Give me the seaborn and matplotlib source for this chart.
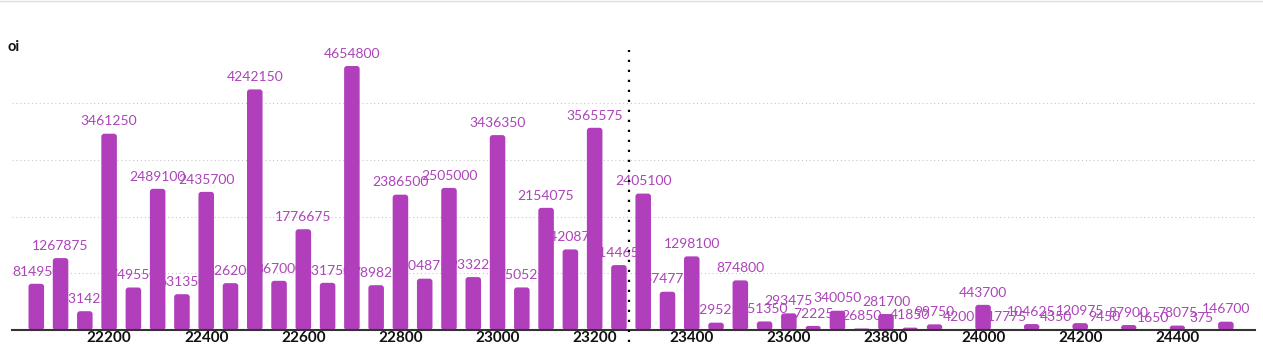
import matplotlib
matplotlib.use("Agg")
import matplotlib.pyplot as plt
import numpy as np
import pandas as pd
import seaborn as sns
from matplotlib.patches import FancyBboxPatch

strikes = list(range(22050, 24550, 50))
oi = [
    814950, 1267875, 331425, 3461250, 749550, 2489100, 631350, 2435700,
    826200, 4242150, 867000, 1776675, 831750, 4654800, 789825, 2386500,
    904875, 2505000, 933225, 3436350, 750525, 2154075, 1420875, 3565575,
    1144650, 2405100, 674775, 1298100, 129525, 874800, 151350, 293475,
    72225, 340050, 26850, 281700, 41850, 99750, 4200, 443700,
    17775, 104625, 4350, 120975, 9450, 87900, 1650, 78075,
    375, 146700,
]
spot = 23270
x_ticks = [22200, 22400, 22600, 22800, 23000, 23200, 23400, 23600, 23800, 24000, 24200, 24400]
grid_levels = [1000000, 2000000, 3000000, 4000000]

bar_color = "#B13FBB"
label_color = "#AC44B9"

sns.set_theme(style="white")
plt.rcParams["font.family"] = ["Lato", "DejaVu Sans"]

df = pd.DataFrame({"strike": strikes, "oi": oi})

fig = plt.figure(figsize=(12.63, 3.52), dpi=100)
ax = fig.add_axes([12 / 1263, 22 / 352, 1243 / 1263, 285 / 352])

sns.barplot(data=df, x="strike", y="oi", native_scale=True, width=0.64,
            color=bar_color, saturation=1, ax=ax, zorder=2)

# swap plain bars for rounded ones
xmin, xmax = 22000, 24560
ymax = 4654800 * 285 / 264
aspect = (ymax / 285) / ((xmax - xmin) / 1243)
for p in list(ax.patches):
    x0, w, h = p.get_x(), p.get_width(), p.get_height()
    p.remove()
    r = min(6, h / aspect) if h > 0 else 0
    fb = FancyBboxPatch((x0, 0), w, h,
                        boxstyle=f"round,pad=0,rounding_size={r}",
                        mutation_aspect=aspect, fc=bar_color, ec="none", zorder=2)
    ax.add_patch(fb)

# labels sit behind the bars, as in the original
for s, v in zip(strikes, oi):
    ax.text(s, v + ymax * 0.022, str(v), ha="center", va="bottom",
            fontsize=10, color=label_color, zorder=1)

for g in grid_levels:
    ax.axhline(g, color="#c8c8c8", lw=0.8, ls=(0, (1, 2.5)), zorder=0)

ax.axvline(spot, ymin=-12 / 285, ymax=280 / 285, color="black", lw=1.6,
           ls=(0, (1, 3.5)), clip_on=False, zorder=4)

ax.set_xlim(xmin, xmax)
ax.set_ylim(0, ymax)
ax.set_xticks(x_ticks)
ax.set_xticklabels([str(t) for t in x_ticks], fontweight="bold", fontsize=11)
ax.tick_params(axis="x", length=0, pad=1, colors="#111111")
ax.set_yticks([])
ax.set_xlabel("")
ax.set_ylabel("")
for side in ["top", "right", "left"]:
    ax.spines[side].set_visible(False)
ax.spines["bottom"].set_color("#333333")
ax.spines["bottom"].set_linewidth(1.5)

fig.text(7 / 1263, 1 - 47 / 352, "oi", fontsize=10.5, fontweight="bold",
         va="center", ha="left", color="#111111")
fig.add_artist(plt.Line2D([0, 1], [1 - 0.5 / 352, 1 - 0.5 / 352],
                          color="#dddddd", lw=1))

fig.savefig("out.png", dpi=100, facecolor="white")
